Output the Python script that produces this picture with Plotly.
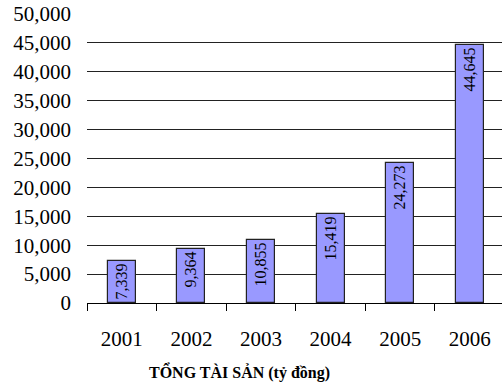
import plotly.graph_objects as go

years = ["2001", "2002", "2003", "2004", "2005", "2006"]
total_assets = [7339, 9364, 10855, 15419, 24273, 44645]
y_ticks = list(range(0, 50001, 5000))
y_tick_labels = [f"{v:,}" for v in y_ticks]
value_labels = [f"{v:,}" for v in total_assets]

W, H = 502, 387
L, R, T, B = 87, 0, 14, 84
SERIF = "Liberation Serif, Times New Roman, serif"

fig = go.Figure(
    go.Bar(
        x=years,
        y=total_assets,
        width=0.4,
        marker=dict(color="#9999FF", line=dict(color="#222222", width=1.2)),
        text=value_labels,
        textposition="inside",
        insidetextanchor="end",
        textangle=-90,
        constraintext="none",
        textfont=dict(family=SERIF, size=16, color="black"),
    )
)

fig.update_layout(
    template="none",
    width=W,
    height=H,
    margin=dict(l=L, r=R, t=T, b=B),
    paper_bgcolor="white",
    plot_bgcolor="white",
    font=dict(family=SERIF, size=21, color="black"),
    showlegend=False,
    bargap=0,
)

fig.update_xaxes(
    type="category",
    range=[-0.5, 5.463],
    tickson="boundaries",
    ticks="outside",
    ticklen=7,
    tickwidth=1,
    tickcolor="black",
    showline=True,
    linecolor="black",
    linewidth=1,
    showgrid=False,
    zeroline=False,
    tickfont=dict(family=SERIF, size=21, color="black"),
    ticklabelstandoff=17,
)

fig.update_yaxes(
    range=[0, 50000],
    tickmode="array",
    tickvals=y_ticks,
    ticktext=y_tick_labels,
    showgrid=True,
    gridcolor="#222222",
    gridwidth=1,
    showline=False,
    zeroline=False,
    ticks="",
    tickfont=dict(family=SERIF, size=21, color="black"),
    ticklabelstandoff=15,
)

fig.add_annotation(
    text="<b>TỔNG TÀI SẢN (tỷ đồng)</b>",
    xref="paper",
    yref="paper",
    x=(239 - L) / (W - L - R),
    y=-(372 - 303) / (303 - T),
    xanchor="center",
    yanchor="middle",
    showarrow=False,
    font=dict(family=SERIF, size=16, color="black"),
)

fig.write_html("out.html")
